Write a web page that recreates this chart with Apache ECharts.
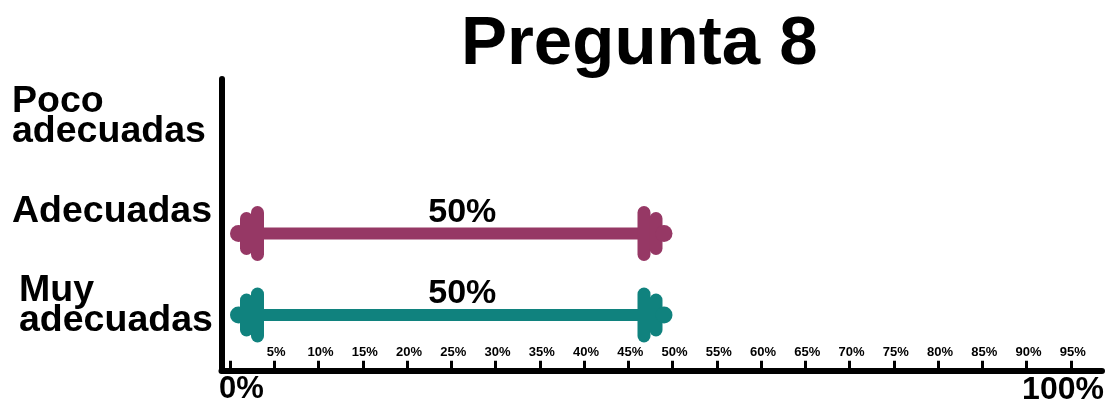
<!DOCTYPE html>
<html>
<head>
<meta charset="utf-8">
<script src="https://cdn.jsdelivr.net/npm/echarts@6/dist/echarts.min.js"></script>
<style>html,body{margin:0;padding:0;background:#fff}#c{width:1110px;height:404px}</style>
</head>
<body>
<div id="c"></div>
<script>
const titleText = 'Pregunta 8';
const categories = ['Poco\nadecuadas', 'Adecuadas', 'Muy\nadecuadas'];
const values = [null, 50, 50];
const colors = ['#963865', '#963865', '#10827e'];
const smallTicks = [5, 10, 15, 20, 25, 30, 35, 40, 45, 50, 55, 60, 65, 70, 75, 80, 85, 90, 95];
const bigTicks = [0, 100];

const FONT = "'Liberation Sans', Arial, Helvetica, sans-serif";
const chart = echarts.init(document.getElementById('c'), null, {renderer: 'canvas'});

function renderItem(params, api) {
  const v = api.value(0);
  if (!v) return null;
  const cat = api.value(1);
  const p0 = api.coord([0, cat]);
  const p1 = api.coord([v, cat]);
  const x0 = p0[0], x1 = p1[0], y = p0[1];
  const color = colors[cat];
  const cap = (x, w, h) => ({
    type: 'rect',
    shape: {x: x, y: y - h / 2, width: w, height: h, r: w / 2},
    style: {fill: color}
  });
  return {
    type: 'group',
    children: [
      {type: 'rect', shape: {x: x0 + 20, y: y - 6, width: (x1 - x0) - 40, height: 12}, style: {fill: color}},
      cap(x0, 17, 17),
      cap(x0 + 10, 13, 43),
      cap(x0 + 21, 13, 55),
      cap(x1 - 35, 13, 55),
      cap(x1 - 23, 13, 43),
      cap(x1 - 17, 17, 17),
      {
        type: 'text',
        x: (x0 + x1) / 2 + 11,
        y: y - 21,
        style: {
          text: v + '%', fill: '#000', fontSize: 34, fontWeight: 'bold',
          fontFamily: FONT, align: 'center', verticalAlign: 'middle'
        }
      }
    ]
  };
}

const option = {
  backgroundColor: '#fff',
  animation: false,
  title: {
    text: titleText,
    left: 456,
    top: 5,
    textStyle: {fontSize: 69, fontWeight: 'bold', fontFamily: FONT, color: '#000'}
  },
  grid: [
    {left: 230, width: 885, top: 111.25, height: 244.5, outerBoundsMode: 'none', containLabel: false},
    {left: 221.5, width: 884, top: 69.75, height: 283.5, outerBoundsMode: 'none', containLabel: false},
    {left: 221.5, right: 8, top: 79, bottom: 33.5, outerBoundsMode: 'none', containLabel: false}
  ],
  xAxis: [
    {
      gridIndex: 0, type: 'value', min: 0, max: 100, interval: 5, position: 'bottom', offset: 14,
      axisLine: {show: false},
      axisTick: {show: true, inside: true, length: 9, lineStyle: {color: '#000', width: 3}},
      splitLine: {show: false},
      axisLabel: {
        inside: true, margin: 11, showMinLabel: true, showMaxLabel: true,
        fontSize: 13, fontWeight: 'bold', fontFamily: FONT, color: '#000',
        formatter: v => smallTicks.includes(v) ? '{s|' + v + '%}' : '',
        rich: {s: {fontSize: 13, fontWeight: 'bold', fontFamily: FONT, color: '#000', padding: [0, 0, 0, 4]}}
      }
    },
    {
      gridIndex: 0, type: 'value', min: 0, max: 100, interval: 100, position: 'bottom', offset: 14,
      axisLine: {show: false}, axisTick: {show: false}, splitLine: {show: false},
      axisLabel: {
        margin: 4, showMinLabel: true, showMaxLabel: true,
        fontSize: 31, fontWeight: 'bold', fontFamily: FONT, color: '#000',
        formatter: v => bigTicks.includes(v) ? (v === 0 ? '{l|' + v + '%}' : '{r|' + v + '%}') : '',
        rich: {
          l: {fontSize: 31, fontWeight: 'bold', fontFamily: FONT, color: '#000', padding: [0, 0, 0, 23]},
          r: {fontSize: 32, fontWeight: 'bold', fontFamily: FONT, color: '#000', padding: [0, 104, 0, 0]}
        }
      }
    },
    {gridIndex: 1, type: 'value', show: false},
    {
      gridIndex: 2, type: 'value', min: 0, max: 1,
      axisLine: {show: true, lineStyle: {color: '#000', width: 6, cap: 'round'}},
      axisTick: {show: false}, axisLabel: {show: false}, splitLine: {show: false}
    }
  ],
  yAxis: [
    {gridIndex: 0, type: 'category', data: categories, inverse: true, show: false},
    {
      gridIndex: 1, type: 'category', data: categories, inverse: true,
      axisLine: {show: false}, axisTick: {show: false}, splitLine: {show: false},
      axisLabel: {
        align: 'left', margin: 209.5, interval: 0,
        fontSize: 37.5, fontWeight: 'bold', fontFamily: FONT, color: '#000', lineHeight: 30,
        formatter: (v, i) => v.split('\n').map(s => (i === 2 ? '{m|' : '{n|') + s + '}').join('\n'),
        rich: {
          n: {fontSize: 37.5, fontWeight: 'bold', fontFamily: FONT, color: '#000', lineHeight: 30},
          m: {fontSize: 37.5, fontWeight: 'bold', fontFamily: FONT, color: '#000', lineHeight: 30, padding: [0, 0, 0, 7]}
        }
      }
    },
    {
      gridIndex: 2, type: 'value', min: 0, max: 1,
      axisLine: {show: true, lineStyle: {color: '#000', width: 6, cap: 'round'}},
      axisTick: {show: false}, axisLabel: {show: false}, splitLine: {show: false}
    }
  ],
  series: [
    {
      type: 'custom',
      xAxisIndex: 0,
      yAxisIndex: 0,
      renderItem: renderItem,
      encode: {x: 0, y: 1},
      data: values.map((v, i) => [v, i]),
      z: 5
    }
  ]
};
chart.setOption(option);
</script>
</body>
</html>
